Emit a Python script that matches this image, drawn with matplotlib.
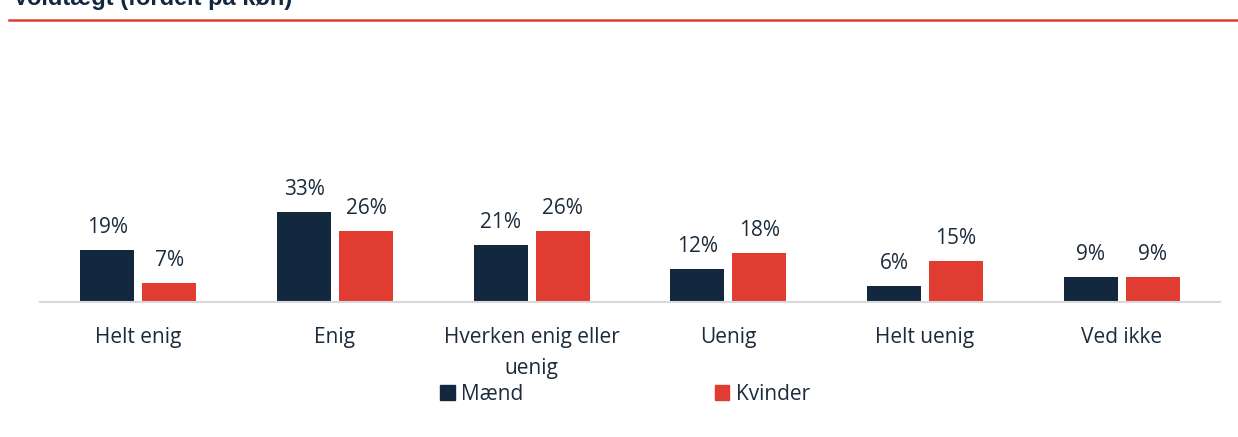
import numpy as np
import matplotlib.pyplot as plt
from matplotlib.patches import Patch
from matplotlib.lines import Line2D

plt.rcParams["font.family"] = ["Open Sans", "DejaVu Sans"]

categories = ["Helt enig", "Enig", "Hverken enig eller\nuenig", "Uenig", "Helt uenig", "Ved ikke"]
maend = [19, 33, 21, 12, 6, 9]
kvinder = [7, 26, 26, 18, 15, 9]

NAVY = "#13283F"
RED = "#E03C31"
TEXT = "#1B2B3C"

W, H = 1238, 437
fig = plt.figure(figsize=(W / 100, H / 100), dpi=100)
ax = fig.add_axes([40 / W, 135 / H, 1180 / W, 242 / H])

x = np.arange(len(categories))
bw = 0.275
gap = 0.02
b1 = ax.bar(x - bw / 2 - gap, maend, bw, color=NAVY)
b2 = ax.bar(x + bw / 2 + gap, kvinder, bw, color=RED)

for bars, vals in ((b1, maend), (b2, kvinder)):
    for bar, v in zip(bars, vals):
        ax.text(bar.get_x() + bar.get_width() / 2, v + 6.2, f"{v}%",
                ha="center", va="baseline", fontsize=15, color=TEXT)

ax.set_xlim(-0.5, len(categories) - 0.5)
ax.set_ylim(0, 88.6)
ax.set_xticks(x)
ax.set_xticklabels(categories, fontsize=15, color=TEXT, linespacing=1.6)
ax.tick_params(axis="x", length=0, pad=18)
ax.set_yticks([])
for s in ["top", "right", "left"]:
    ax.spines[s].set_visible(False)
ax.spines["bottom"].set_color("#D9D9D9")
ax.spines["bottom"].set_linewidth(1.5)

handles = [Patch(color=NAVY, label="Mænd"), Patch(color=RED, label="Kvinder")]
leg = fig.legend(handles=handles, loc="center", bbox_to_anchor=(625 / W, 1 - 394 / H),
                 ncol=2, frameon=False, fontsize=15, handlelength=0.7, handleheight=0.7,
                 handletextpad=0.3, columnspacing=9.2)
for t in leg.get_texts():
    t.set_color(TEXT)

# title (cut off at top) and red rule
fig.text(13 / W, 1 - 5 / H, "Voldtægt (fordelt på køn)", fontsize=17, fontweight="bold",
         color=NAVY, ha="left", va="baseline", family=["Liberation Sans", "DejaVu Sans"])
fig.add_artist(Line2D([9 / W, 1.0], [1 - 20 / H, 1 - 20 / H], color=RED, lw=1.8,
                      transform=fig.transFigure))

fig.savefig("out.png", dpi=100, facecolor="white")
